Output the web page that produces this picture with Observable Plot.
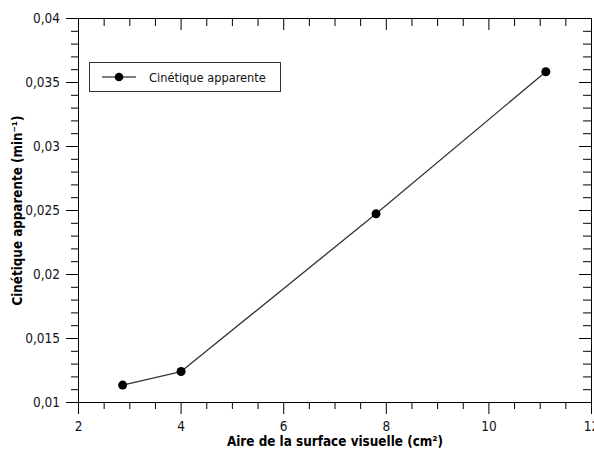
<!DOCTYPE html>
<html><head><meta charset="utf-8">
<script src="https://cdn.jsdelivr.net/npm/d3@7"></script>
<script src="https://cdn.jsdelivr.net/npm/@observablehq/plot@0.6"></script>
<style>
body{margin:0;background:#fff;}
#wrap{position:relative;width:594px;height:450px;}
#legend{position:absolute;left:89px;top:62px;width:192px;height:30px;border:1px solid #333;background:#fff;box-sizing:border-box;font-size:12.7px;font-family:"DejaVu Sans Condensed","DejaVu Sans",sans-serif;color:#111;display:flex;align-items:center;}
#legend svg{margin-left:12px;margin-right:13px;}
</style></head><body><div id="wrap"></div>
<script>
const seriesName = "Cinétique apparente";
const xValues = [2.86, 4.0, 7.8, 11.11];
const yValues = [0.01136, 0.01242, 0.02474, 0.03584];
const xMajorTicks = [2, 4, 6, 8, 10, 12];
const xMinorTicks = [2.5, 3, 3.5, 4.5, 5, 5.5, 6.5, 7, 7.5, 8.5, 9, 9.5, 10.5, 11, 11.5];
const yMajorTicks = [0.01, 0.015, 0.02, 0.025, 0.03, 0.035, 0.04];
const yMinorTicks = [0.011, 0.012, 0.013, 0.014, 0.016, 0.017, 0.018, 0.019, 0.021, 0.022, 0.023, 0.024,
  0.026, 0.027, 0.028, 0.029, 0.031, 0.032, 0.033, 0.034, 0.036, 0.037, 0.038, 0.039];
const xLabel = "Aire de la surface visuelle (cm²)";
const yLabel = "Cinétique apparente (min⁻¹)";

const data = xValues.map((x, i) => ({x, y: yValues[i]}));
const fmt = d => String(d).replace(".", ",");
const font = '"DejaVu Sans Condensed","DejaVu Sans",sans-serif';
const W = 594, H = 450, mL = 78, mR = 3, mT = 18, mB = 48;
const pw = W - mL - mR, ph = H - mT - mB;

const chart = Plot.plot({
  width: W, height: H, marginLeft: mL, marginRight: mR, marginTop: mT, marginBottom: mB,
  style: {fontFamily: font, fontSize: "13.5px", color: "#000", background: "#fff"},
  x: {domain: [2, 12]},
  y: {domain: [0.01, 0.04]},
  marks: [
    Plot.axisX({ticks: xMajorTicks, tickSize: 12, tickPadding: 6.5, tickFormat: fmt, label: null, fill: "#111122"}),
    Plot.axisX({ticks: xMinorTicks, tickSize: 7, tickFormat: () => "", label: null}),
    Plot.axisY({ticks: yMajorTicks, tickSize: 12, tickPadding: 6.5, tickFormat: fmt, label: null, fill: "#111122"}),
    Plot.axisY({ticks: yMinorTicks, tickSize: 7, tickFormat: () => "", label: null}),
    Plot.tickX(xMajorTicks, {x: d => d, insetBottom: ph - 12, stroke: "#000"}),
    Plot.tickX(xMinorTicks, {x: d => d, insetBottom: ph - 8, stroke: "#000"}),
    Plot.tickY(yMajorTicks, {y: d => d, insetLeft: pw - 12, stroke: "#000"}),
    Plot.tickY(yMinorTicks, {y: d => d, insetLeft: pw - 8, stroke: "#000"}),
    Plot.frame({stroke: "#000"}),
    Plot.line(data, {x: "x", y: "y", stroke: "#333", strokeWidth: 1.3}),
    Plot.dot(data, {x: "x", y: "y", r: 4.5, fill: "#000", stroke: "none"}),
    Plot.text([xLabel], {text: d => d, frameAnchor: "bottom", textAnchor: "middle", dy: 43, fontWeight: "bold", fontSize: 13.4, fill: "#000"}),
    Plot.text([yLabel], {text: d => d, frameAnchor: "left", textAnchor: "middle", dx: -61, rotate: -90, fontWeight: "bold", fontSize: 13.3, fill: "#000"})
  ]
});
const wrap = document.getElementById("wrap");
wrap.appendChild(chart);
const leg = document.createElement("div");
leg.id = "legend";
leg.innerHTML = '<svg width="34" height="10"><line x1="0" y1="5" x2="34" y2="5" stroke="#555" stroke-width="1.5"/><circle cx="17" cy="5" r="4.3" fill="#000"/></svg><span></span>';
leg.querySelector("span").textContent = seriesName;
wrap.appendChild(leg);
</script></body></html>
